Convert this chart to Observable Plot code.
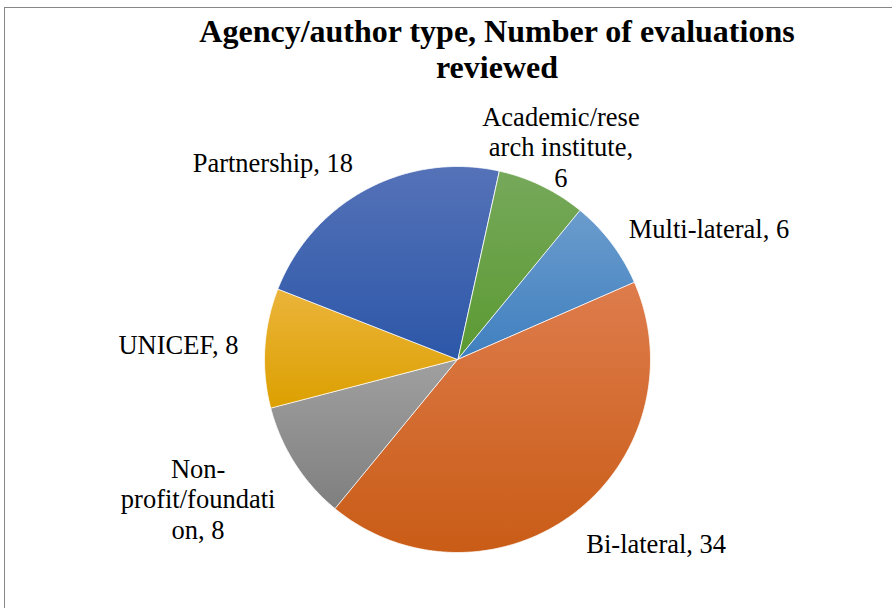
<!DOCTYPE html>
<html><head><meta charset="utf-8">
<script src="https://cdn.jsdelivr.net/npm/d3@7"></script>
<script src="https://cdn.jsdelivr.net/npm/@observablehq/plot@0.6"></script>
<style>
html,body{margin:0;padding:0;background:#fff;}
#wrap{position:relative;width:892px;height:608px;overflow:hidden;}
#frame{position:absolute;left:4px;top:7px;width:900px;height:620px;border-left:1px solid #878787;border-top:1px solid #878787;}
#chart{position:absolute;left:0;top:0;}
#chart svg text{font-family:"Liberation Serif","Times New Roman",serif !important;}
#title{position:absolute;left:147px;width:700px;top:13px;text-align:center;font-family:"Liberation Serif","Times New Roman",serif;font-weight:bold;font-size:32px;line-height:36px;color:#000;}
</style></head><body>
<div id="wrap"><div id="frame"></div><div id="chart"></div><div id="title">Agency/author type, Number of evaluations<br>reviewed</div></div>
<script>
// Data (clockwise from the first slice)
const categories = ["Academic/research institute", "Multi-lateral", "Bi-lateral", "Non-profit/foundation", "UNICEF", "Partnership"];
const values = [6, 6, 34, 8, 8, 18];
// label text as wrapped in the reference
const labelNames = ["Academic/rese\narch institute", "Multi-lateral", "Bi-lateral", "Non-\nprofit/foundati\non", "UNICEF", "Partnership"];
const labelSeparators = ["\n", " ", " ", " ", " ", " "];
// styling
const topColors = ["#76a85a", "#6b9ccd", "#de7c4c", "#a0a0a0", "#ebb43a", "#5572b8"];
const bottomColors = ["#5b9a32", "#3f7fbf", "#c95c16", "#7f7f7f", "#dca000", "#2c57a8"];
// label placement: angle (deg clockwise from top), radius (fraction of pie radius)
const labelAngles = [25.9, 62.5, 132.8, 241.8, 273.1, 316.9];
const labelRadii = [1.227, 1.469, 1.403, 1.525, 1.448, 1.40];
const startAngleDeg = 12.4;

const total = d3.sum(values);
let acc = startAngleDeg;
const slices = values.map((v, i) => {
  const a0 = acc, a1 = acc + v / total * 360;
  acc = a1;
  return {i, name: categories[i], value: v, a0, a1};
});
const pt = (deg, r) => { const t = deg * Math.PI / 180; return [r * Math.sin(t), -r * Math.cos(t)]; };
const features = slices.map(s => {
  const ring = [[0, 0]];
  const n = Math.max(2, Math.ceil((s.a1 - s.a0) / 0.5));
  for (let k = 0; k <= n; k++) ring.push(pt(s.a0 + (s.a1 - s.a0) * k / n, 1));
  ring.push([0, 0]);
  return {type: "Feature", properties: s, geometry: {type: "Polygon", coordinates: [ring]}};
});
const labels = slices.map((s, i) => {
  const [x, y] = pt(labelAngles[i], labelRadii[i]);
  return {x, y, text: `${labelNames[i]},${labelSeparators[i]}${s.value}`};
});

const domain = {type: "Polygon", coordinates: [[[-1, -1], [1, -1], [1, 1], [-1, 1], [-1, -1]]]};

const plot = Plot.plot({
  width: 892, height: 608,
  marginLeft: 264, marginRight: 242, marginTop: 166, marginBottom: 56,
  projection: {type: "identity", domain, clip: false},
  style: {background: "transparent", overflow: "visible", fontFamily: "Liberation Serif"},
  marks: [
    ...features.map((f, i) => Plot.geo([f], {fill: `url(#sliceGrad${i})`, stroke: "#ffffff", strokeWidth: 0.8})),
    Plot.text(labels, {x: "x", y: "y", text: "text", fontSize: 26.5, lineHeight: 1.15, lineAnchor: "middle", textAnchor: "middle", fill: "#000", fontFamily: "Liberation Serif", clip: false})
  ]
});
const defs = d3.select(plot).insert("defs", ":first-child");
slices.forEach((s, i) => {
  const g = defs.append("linearGradient").attr("id", `sliceGrad${i}`).attr("x1", 0).attr("y1", 0).attr("x2", 0).attr("y2", 1);
  g.append("stop").attr("offset", "0%").attr("stop-color", topColors[i]);
  g.append("stop").attr("offset", "100%").attr("stop-color", bottomColors[i]);
});
document.getElementById("chart").appendChild(plot);
</script>
</body></html>
